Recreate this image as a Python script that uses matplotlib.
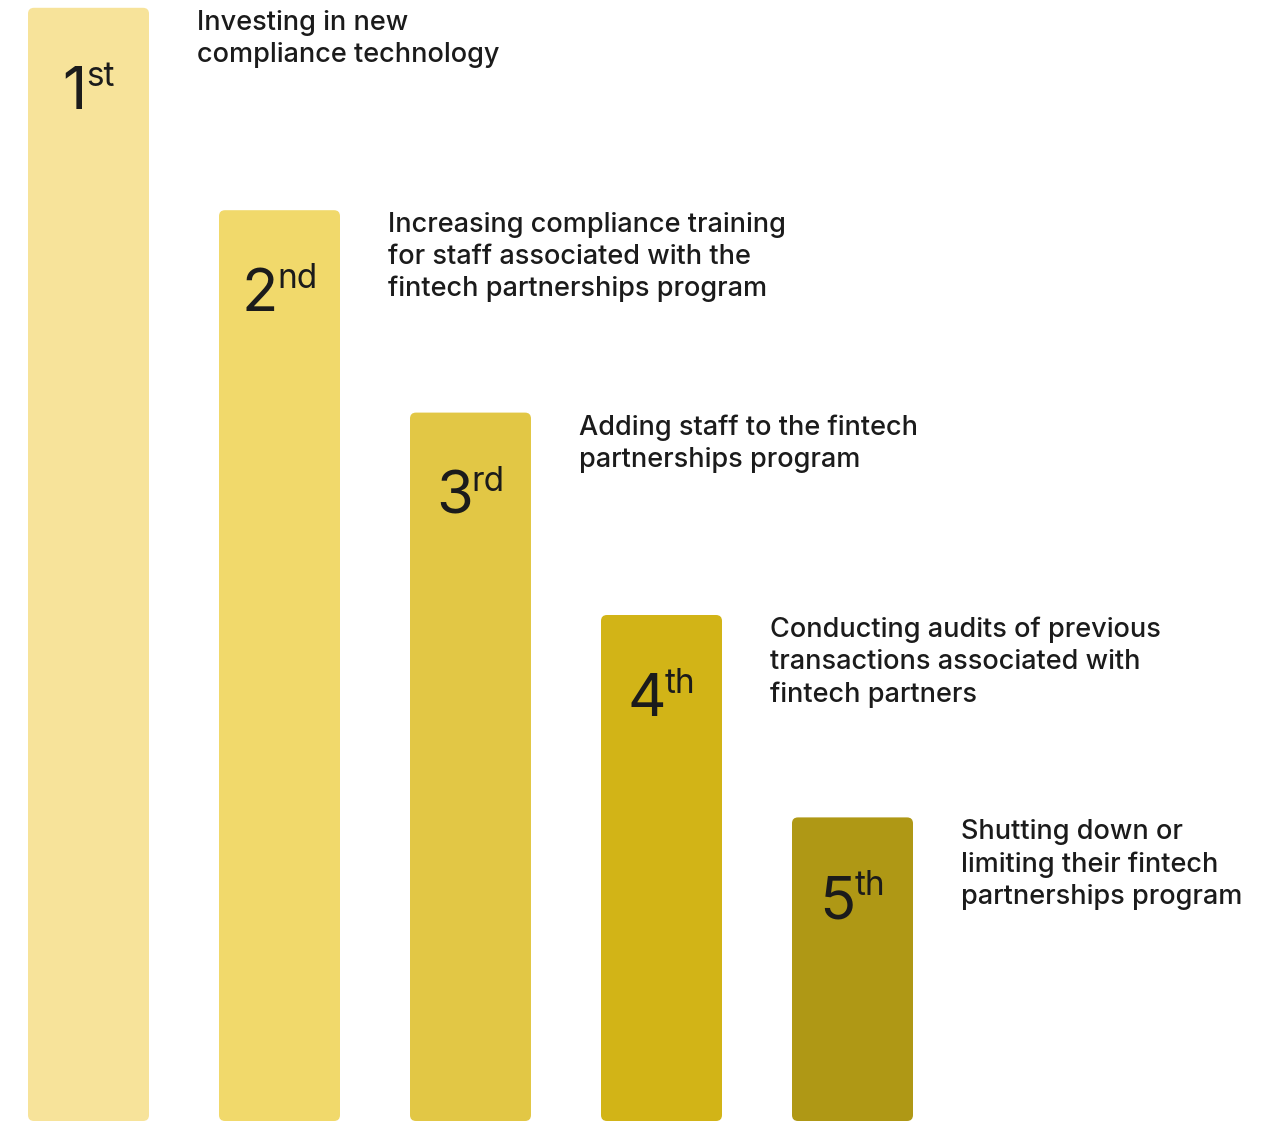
import matplotlib
matplotlib.use("Agg")
import matplotlib.pyplot as plt
from matplotlib.patches import FancyBboxPatch

plt.rcParams["font.family"] = ["Inter", "DejaVu Sans"]

ranks = ["1", "2", "3", "4", "5"]
suffixes = ["st", "nd", "rd", "th", "th"]
scores = [5.5, 4.5, 3.5, 2.5, 1.5]
labels = [
    "Investing in new\ncompliance technology",
    "Increasing compliance training\nfor staff associated with the\nfintech partnerships program",
    "Adding staff to the fintech\npartnerships program",
    "Conducting audits of previous\ntransactions associated with\nfintech partners",
    "Shutting down or\nlimiting their fintech\npartnerships program",
]
colors = ["#F7E39A", "#F1D96B", "#E2C745", "#D2B417", "#AF9815"]

W, H, DPI = 1279, 1122, 100
fig = plt.figure(figsize=(W / DPI, H / DPI), dpi=DPI)
ax = fig.add_axes([0, 0, 1, 1])
ax.set_axis_off()

step_px = 191.0
unit_px = 202.4
x0_px = 88.5
bottom_px = 1121.0
ax.set_xlim(-x0_px / step_px, (W - x0_px) / step_px)
ax.set_ylim(-(H - bottom_px) / unit_px, bottom_px / unit_px)

bar_w = 121.0 / step_px
radius = 6.0 / step_px
aspect = step_px / unit_px
TEXT = "#1b1b1b"

xs = list(range(len(scores)))
for x, v, c in zip(xs, scores, colors):
    ax.add_patch(FancyBboxPatch((x - bar_w / 2, 0), bar_w, v,
                                boxstyle=f"round,pad=0,rounding_size={radius}",
                                mutation_aspect=aspect, fc=c, ec="none"))

num_texts = []
sup_texts = []
for x, v, r, s, lab in zip(xs, scores, ranks, suffixes, labels):
    base_y = v - 101.0 / unit_px
    t1 = ax.text(x, base_y, r, fontsize=43, color=TEXT, ha="left",
                 va="baseline")
    t2 = ax.text(x, base_y + 23.0 / unit_px, s, fontsize=24, color=TEXT,
                 ha="left", va="baseline")
    num_texts.append(t1)
    sup_texts.append(t2)
    ax.text(x + bar_w / 2 + 48.0 / step_px, v - 2.0 / unit_px, lab,
            fontsize=19.5, fontweight="medium", color=TEXT, ha="left",
            va="top", linespacing=1.29)

# centre each rank number + suffix pair on its bar
fig.canvas.draw()
renderer = fig.canvas.get_renderer()
gap_px = -1.0
for x, t1, t2 in zip(xs, num_texts, sup_texts):
    w1 = t1.get_window_extent(renderer).width
    w2 = t2.get_window_extent(renderer).width
    total = w1 + gap_px + w2
    left = x - (total / 2) / step_px
    t1.set_x(left)
    t2.set_x(left + (w1 + gap_px) / step_px)

fig.savefig("out.png", dpi=DPI, facecolor="white")
